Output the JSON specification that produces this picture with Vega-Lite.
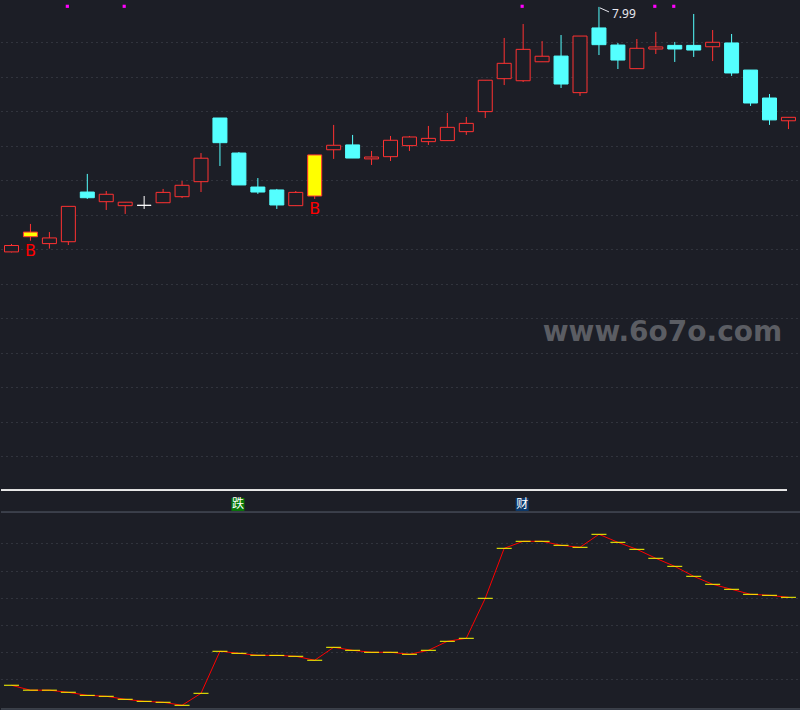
{
  "$schema": "https://vega.github.io/schema/vega-lite/v6.json",
  "background": "#1c1e26",
  "padding": 0,
  "bounds": "flush",
  "spacing": 0,
  "config": {
    "view": {"stroke": null},
    "axisY": {"grid": true, "labels": false, "ticks": false, "domain": false, "title": null, "gridDash": [1, 4], "gridColor": "#474a54", "gridWidth": 1}
  },
  "datasets": {
    "k": [
      {"i": 0, "o": 6.570, "c": 6.607, "h": 6.616, "l": 6.567, "t": "up", "v": 7.8, "m": 0},
      {"i": 1, "o": 6.658, "c": 6.685, "h": 6.732, "l": 6.635, "t": "signal", "v": 6.0, "m": 0},
      {"i": 2, "o": 6.618, "c": 6.651, "h": 6.685, "l": 6.589, "t": "up", "v": 6.0, "m": 0},
      {"i": 3, "o": 6.629, "c": 6.834, "h": 6.834, "l": 6.610, "t": "up", "v": 5.2, "m": 1},
      {"i": 4, "o": 6.917, "c": 6.884, "h": 7.022, "l": 6.877, "t": "down", "v": 4.1, "m": 0},
      {"i": 5, "o": 6.861, "c": 6.904, "h": 6.923, "l": 6.813, "t": "up", "v": 3.75, "m": 0},
      {"i": 6, "o": 6.838, "c": 6.858, "h": 6.858, "l": 6.790, "t": "up", "v": 2.65, "m": 1},
      {"i": 7, "o": 6.840, "c": 6.840, "h": 6.894, "l": 6.819, "t": "flat", "v": 1.9, "m": 0},
      {"i": 8, "o": 6.855, "c": 6.915, "h": 6.935, "l": 6.855, "t": "up", "v": 1.55, "m": 0},
      {"i": 9, "o": 6.890, "c": 6.956, "h": 6.981, "l": 6.882, "t": "up", "v": 0.44, "m": 0},
      {"i": 10, "o": 6.977, "c": 7.113, "h": 7.143, "l": 6.917, "t": "up", "v": 4.85, "m": 0},
      {"i": 11, "o": 7.346, "c": 7.203, "h": 7.346, "l": 7.068, "t": "down", "v": 20.3, "m": 0},
      {"i": 12, "o": 7.143, "c": 6.958, "h": 7.149, "l": 6.958, "t": "down", "v": 19.56, "m": 0},
      {"i": 13, "o": 6.946, "c": 6.917, "h": 6.998, "l": 6.906, "t": "down", "v": 18.8, "m": 0},
      {"i": 14, "o": 6.929, "c": 6.842, "h": 6.935, "l": 6.819, "t": "down", "v": 18.8, "m": 0},
      {"i": 15, "o": 6.838, "c": 6.915, "h": 6.923, "l": 6.838, "t": "up", "v": 18.46, "m": 0},
      {"i": 16, "o": 6.894, "c": 7.132, "h": 7.132, "l": 6.877, "t": "signal", "v": 17.0, "m": 0},
      {"i": 17, "o": 7.162, "c": 7.188, "h": 7.306, "l": 7.109, "t": "up", "v": 21.76, "m": 0},
      {"i": 18, "o": 7.190, "c": 7.114, "h": 7.248, "l": 7.114, "t": "down", "v": 20.66, "m": 0},
      {"i": 19, "o": 7.109, "c": 7.120, "h": 7.155, "l": 7.074, "t": "up", "v": 19.93, "m": 0},
      {"i": 20, "o": 7.122, "c": 7.217, "h": 7.242, "l": 7.097, "t": "up", "v": 19.93, "m": 0},
      {"i": 21, "o": 7.186, "c": 7.236, "h": 7.242, "l": 7.155, "t": "up", "v": 19.2, "m": 0},
      {"i": 22, "o": 7.209, "c": 7.228, "h": 7.300, "l": 7.190, "t": "up", "v": 20.66, "m": 0},
      {"i": 23, "o": 7.215, "c": 7.292, "h": 7.375, "l": 7.215, "t": "up", "v": 23.97, "m": 0},
      {"i": 24, "o": 7.267, "c": 7.315, "h": 7.352, "l": 7.248, "t": "up", "v": 25.07, "m": 0},
      {"i": 25, "o": 7.383, "c": 7.565, "h": 7.565, "l": 7.346, "t": "up", "v": 39.78, "m": 0},
      {"i": 26, "o": 7.574, "c": 7.663, "h": 7.810, "l": 7.537, "t": "up", "v": 58.16, "m": 0},
      {"i": 27, "o": 7.562, "c": 7.744, "h": 7.891, "l": 7.555, "t": "up", "v": 60.74, "m": 1},
      {"i": 28, "o": 7.672, "c": 7.704, "h": 7.792, "l": 7.672, "t": "up", "v": 60.74, "m": 0},
      {"i": 29, "o": 7.705, "c": 7.543, "h": 7.827, "l": 7.520, "t": "down", "v": 59.26, "m": 0},
      {"i": 30, "o": 7.493, "c": 7.821, "h": 7.821, "l": 7.474, "t": "up", "v": 58.53, "m": 0},
      {"i": 31, "o": 7.868, "c": 7.771, "h": 7.99, "l": 7.711, "t": "down", "v": 63.31, "m": 0},
      {"i": 32, "o": 7.769, "c": 7.682, "h": 7.781, "l": 7.630, "t": "down", "v": 60.37, "m": 0},
      {"i": 33, "o": 7.632, "c": 7.750, "h": 7.804, "l": 7.632, "t": "up", "v": 57.79, "m": 0},
      {"i": 34, "o": 7.746, "c": 7.758, "h": 7.845, "l": 7.717, "t": "up", "v": 54.49, "m": 1},
      {"i": 35, "o": 7.767, "c": 7.746, "h": 7.787, "l": 7.671, "t": "down", "v": 51.54, "m": 1},
      {"i": 36, "o": 7.767, "c": 7.740, "h": 7.949, "l": 7.700, "t": "down", "v": 47.87, "m": 0},
      {"i": 37, "o": 7.759, "c": 7.785, "h": 7.856, "l": 7.676, "t": "up", "v": 44.93, "m": 0},
      {"i": 38, "o": 7.781, "c": 7.607, "h": 7.833, "l": 7.590, "t": "down", "v": 43.09, "m": 0},
      {"i": 39, "o": 7.624, "c": 7.433, "h": 7.624, "l": 7.416, "t": "down", "v": 41.25, "m": 0},
      {"i": 40, "o": 7.462, "c": 7.335, "h": 7.485, "l": 7.306, "t": "down", "v": 40.88, "m": 0},
      {"i": 41, "o": 7.330, "c": 7.350, "h": 7.350, "l": 7.282, "t": "up", "v": 40.15, "m": 0}
    ],
    "tags": [
      {"i": 12, "lab": "跌", "kind": "down"},
      {"i": 27, "lab": "财", "kind": "money"}
    ]
  },
  "vconcat": [
    {
      "width": 800,
      "height": 490,
      "data": {"name": "k"},
      "layer": [
        {
          "mark": {"type": "rule", "strokeWidth": 1},
          "encoding": {
            "x": {"field": "i", "type": "quantitative", "scale": {"domain": [-0.554, 41.662], "nice": false, "zero": false, "padding": 0}, "axis": null},
            "y": {"field": "l", "type": "quantitative", "scale": {"domain": [5.19, 8.03], "nice": false, "zero": false, "padding": 0},
                  "axis": {"values": [7.785, 7.585, 7.385, 7.185, 6.985, 6.785, 6.585, 6.385, 6.185, 5.985, 5.785, 5.585, 5.385]}},
            "y2": {"field": "h"},
            "stroke": {"field": "t", "type": "nominal", "scale": {"domain": ["up", "down", "flat", "signal"], "range": ["#ff3232", "#54ffff", "#ffffff", "#ff3232"]}, "legend": null}
          }
        },
        {
          "mark": {"type": "bar", "size": 14, "strokeWidth": 1},
          "encoding": {
            "x": {"field": "i", "type": "quantitative"},
            "y": {"field": "o", "type": "quantitative"},
            "y2": {"field": "c"},
            "fill": {"field": "t", "type": "nominal", "scale": {"domain": ["up", "down", "flat", "signal"], "range": ["#1c1e26", "#54ffff", "#ffffff", "#ffff00"]}, "legend": null},
            "stroke": {"field": "t", "type": "nominal", "legend": null}
          }
        },
        {
          "transform": [{"filter": "datum.t === 'signal'"}],
          "mark": {"type": "text", "baseline": "top", "align": "center", "dy": 2, "fontSize": 16, "font": "DejaVu Sans", "color": "#ff0000"},
          "encoding": {
            "x": {"field": "i", "type": "quantitative"},
            "y": {"field": "l", "type": "quantitative"},
            "text": {"value": "B"}
          }
        },
        {
          "transform": [{"filter": "datum.m === 1"}],
          "mark": {"type": "square", "size": 10, "filled": true, "opacity": 1, "color": "#ff00ff", "xOffset": -1},
          "encoding": {
            "x": {"field": "i", "type": "quantitative"},
            "y": {"datum": 7.9935, "type": "quantitative"}
          }
        },
        {
          "transform": [{"filter": "datum.h >= 7.99"}],
          "mark": {"type": "rule", "color": "#e8e8f0", "strokeWidth": 1, "xOffset": 1, "yOffset": 1, "x2Offset": 10, "y2Offset": 5},
          "encoding": {
            "x": {"field": "i", "type": "quantitative"},
            "x2": {"field": "i"},
            "y": {"field": "h", "type": "quantitative"},
            "y2": {"field": "h"}
          }
        },
        {
          "transform": [{"filter": "datum.h >= 7.99"}],
          "mark": {"type": "text", "align": "left", "baseline": "middle", "dx": 13, "dy": 7, "fontSize": 12, "font": "Noto Sans", "color": "#e8e8f0"},
          "encoding": {
            "x": {"field": "i", "type": "quantitative"},
            "y": {"field": "h", "type": "quantitative"},
            "text": {"field": "h", "type": "quantitative", "format": ".2f"}
          }
        },
        {
          "data": {"values": [{"w": "www.6o7o.com"}]},
          "mark": {"type": "text", "align": "center", "baseline": "middle", "fontSize": 28, "font": "DejaVu Sans", "fontWeight": "bold", "color": "#5b5d63"},
          "encoding": {
            "x": {"datum": 34.35, "type": "quantitative"},
            "y": {"datum": 6.10, "type": "quantitative"},
            "text": {"field": "w"}
          }
        }
      ]
    },
    {
      "width": 800,
      "height": 220,
      "data": {"name": "k"},
      "layer": [
        {
          "mark": {"type": "line", "color": "#ff0000", "strokeWidth": 1},
          "encoding": {
            "x": {"field": "i", "type": "quantitative", "scale": {"domain": [-0.554, 41.662], "nice": false, "zero": false, "padding": 0}, "axis": null},
            "y": {"field": "v", "type": "quantitative", "scale": {"domain": [-1.29, 79.6], "nice": false, "zero": false, "padding": 0},
                  "axis": {"values": [60, 50, 40, 30, 20, 10]}}
          }
        },
        {
          "mark": {"type": "tick", "orient": "horizontal", "size": 15, "thickness": 1, "color": "#ffff00", "opacity": 1},
          "encoding": {
            "x": {"field": "i", "type": "quantitative"},
            "y": {"field": "v", "type": "quantitative"}
          }
        },
        {
          "mark": {"type": "rule", "color": "#e8e8e8", "strokeWidth": 1},
          "encoding": {
            "x": {"datum": -0.554, "type": "quantitative"},
            "x2": {"datum": 40.92},
            "y": {"datum": 79.45, "type": "quantitative"}
          }
        },
        {
          "mark": {"type": "rule", "color": "#3c404b", "strokeWidth": 1},
          "encoding": {
            "x": {"datum": -0.554, "type": "quantitative"},
            "x2": {"datum": 41.662},
            "y": {"datum": 71.4, "type": "quantitative"}
          }
        },
        {
          "mark": {"type": "rule", "color": "#3c404b", "strokeWidth": 1},
          "encoding": {
            "x": {"datum": -0.554, "type": "quantitative"},
            "x2": {"datum": 41.662},
            "y": {"datum": -0.81, "type": "quantitative"}
          }
        },
        {
          "data": {"name": "tags"},
          "mark": {"type": "square", "size": 169, "filled": true, "opacity": 1, "xOffset": -1},
          "encoding": {
            "x": {"field": "i", "type": "quantitative"},
            "y": {"datum": 74.3, "type": "quantitative"},
            "color": {"field": "kind", "type": "nominal", "scale": {"domain": ["down", "money"], "range": ["#087a08", "#0c3a6e"]}, "legend": null}
          }
        },
        {
          "data": {"name": "tags"},
          "mark": {"type": "text", "align": "center", "baseline": "middle", "fontSize": 12, "font": "Noto Sans CJK SC", "color": "#ffffff", "xOffset": -1},
          "encoding": {
            "x": {"field": "i", "type": "quantitative"},
            "y": {"datum": 74.3, "type": "quantitative"},
            "text": {"field": "lab"}
          }
        }
      ]
    }
  ]
}
